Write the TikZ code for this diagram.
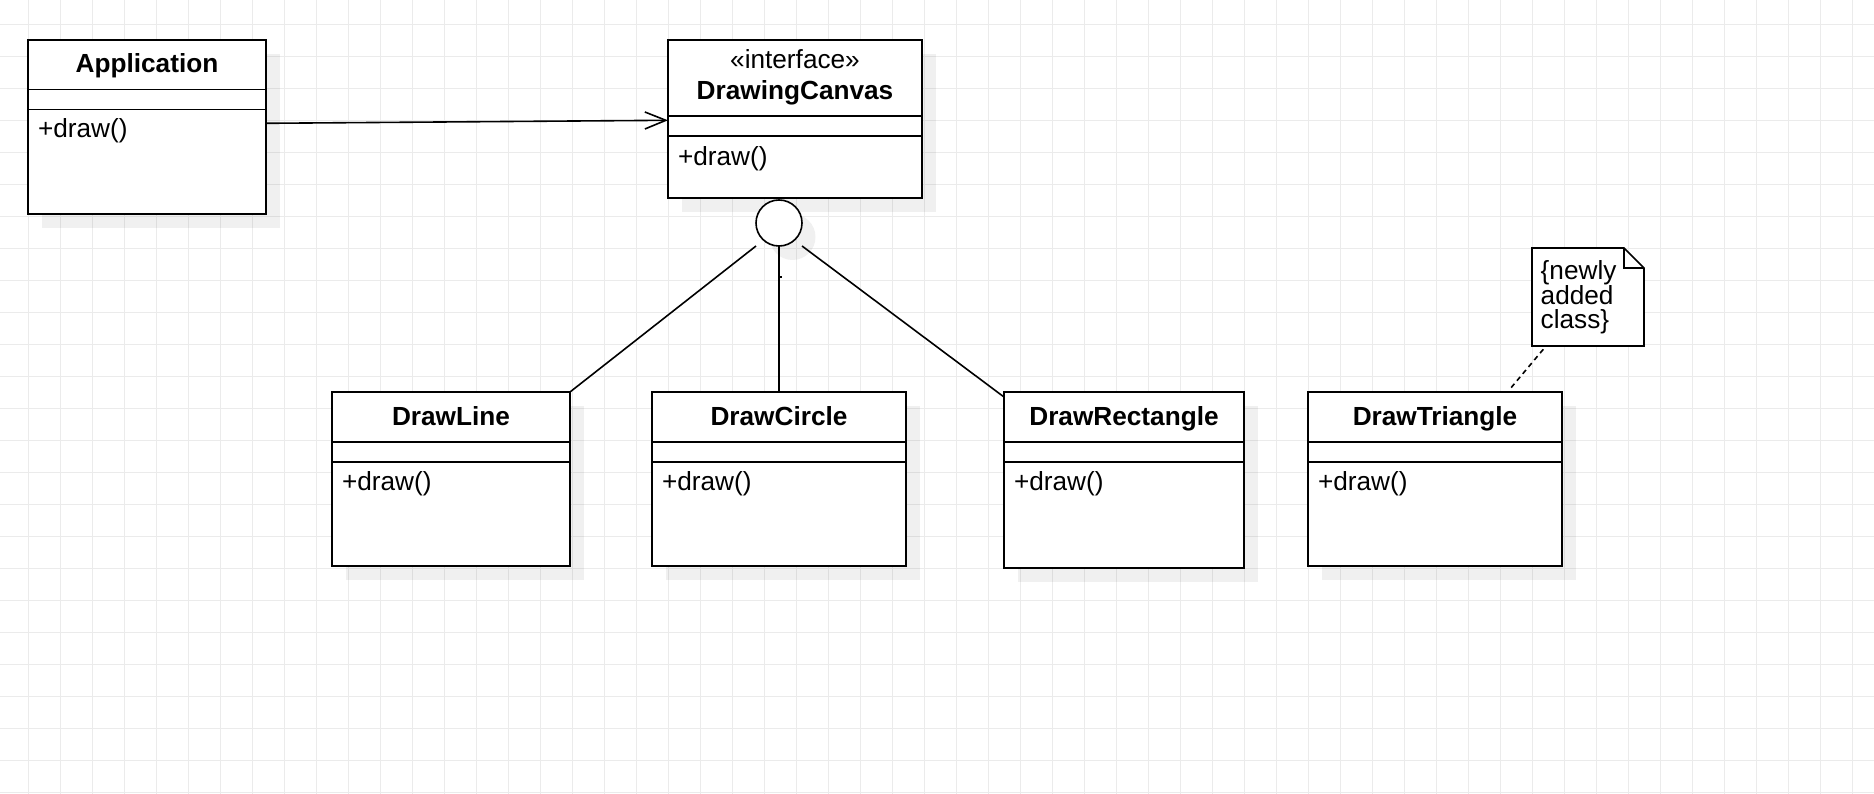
\documentclass[tikz,border=0pt]{standalone}
\usepackage{fontspec}
\setmainfont{Liberation Sans}
\usetikzlibrary{arrows.meta,calc}
\newcommand{\umlclass}[7]{%
  \fill[shade] (#2+14,#3+14) rectangle (#4+14,#5+14);
  \node[umlbox, minimum width={(#4-#2)*1pt}, minimum height={(#5-#3)*1pt}] (#1) at (#2,#3) {};
  \draw[sep] ($(#1.north west)+(0,#6)$) -- ($(#1.north east)+(0,#6)$);
  \draw[sep] ($(#1.north west)+(0,#7)$) -- ($(#1.north east)+(0,#7)$);
}
\begin{document}
\begin{tikzpicture}[x=1pt,y=-1pt,
  every node/.style={inner sep=0pt, outer sep=0pt},
  txt/.style={font=\fontsize{26.2}{24.5}\selectfont},
  ttl/.style={font=\fontsize{26.2}{24.5}\selectfont\bfseries},
  umlbox/.style={draw, fill=white, line width=1.6pt, rectangle, anchor=north west},
  shade/.style={fill=black, fill opacity=0.06},
  sep/.style={line width=1.6pt},
  conn/.style={line width=1.6pt},
  gridline/.style={draw=black!8, line width=1pt}]
\useasboundingbox (0,0) rectangle (1874,794);
\fill[white] (0,0) rectangle (1874,794);
\foreach \i in {0,...,57} \draw[gridline] ({28.3+32*\i},0) -- ({28.3+32*\i},794);
\foreach \j in {0,...,24} \draw[gridline] (0,{24.3+32*\j}) -- (1874,{24.3+32*\j});

% classes
\umlclass{app}{28}{40}{266}{214}{49.7}{69.7}
\umlclass{canvas}{668}{40}{922}{198}{76}{96}
\umlclass{dline}{332}{392}{570}{566}{49.7}{69.7}
\umlclass{dcircle}{652}{392}{906}{566}{49.7}{69.7}
\umlclass{drect}{1004}{392}{1244}{568}{49.7}{69.7}
\umlclass{dtri}{1308}{392}{1562}{566}{49.7}{69.7}

% texts
\node[ttl, anchor=base] (apptitle) at (147,72.7) {Application};
\node[txt, anchor=base west] (appop) at (38,138) {+draw()};
\node[txt, anchor=base] (canvasst) at (795,69) {«interface»};
\node[ttl, anchor=base] (canvastitle) at (795,99.3) {DrawingCanvas};
\node[txt, anchor=base west] (canvasop) at (678,165.5) {+draw()};
\node[ttl, anchor=base] (dlinetitle) at (451,425) {DrawLine};
\node[txt, anchor=base west] (dlineop) at (342,490) {+draw()};
\node[ttl, anchor=base] (dcircletitle) at (779,425) {DrawCircle};
\node[txt, anchor=base west] (dcircleop) at (662,490) {+draw()};
\node[ttl, anchor=base] (drecttitle) at (1124,425) {DrawRectangle};
\node[txt, anchor=base west] (drectop) at (1014,490) {+draw()};
\node[ttl, anchor=base] (dtrititle) at (1435,425) {DrawTriangle};
\node[txt, anchor=base west] (dtriop) at (1318,490) {+draw()};

% interface lollipop
\fill[shade] (792.5,237) circle[radius=23];
\node[circle, draw, fill=white, line width=1.6pt, minimum size=46pt] (iface) at (779,223) {};
\draw[conn] ([xshift=-23pt]iface.south) -- (dline.north east);
\draw[conn] (iface.south) -- (dcircle.north);
\draw[conn] ([xshift=23pt]iface.south) -- ([yshift=-5pt]drect.north west);
\fill (780,276) rectangle (782,278);

% association arrow
\draw[conn, -{Straight Barb[length=21pt,width=17pt]}] ([yshift=3.7pt]app.east) -- ([yshift=-1.3pt]canvas.west);

% note
\node[minimum width=112pt, minimum height=98pt, anchor=north west] (note) at (1532,248) {};
\draw[line width=1.6pt, fill=white] (note.north west) -- ([xshift=-20pt]note.north east) -- ([yshift=-20pt]note.north east) -- (note.south east) -- (note.south west) -- cycle;
\draw[line width=1.6pt] ([xshift=-20pt]note.north east) -- ([xshift=-20pt,yshift=-20pt]note.north east) -- ([yshift=-20pt]note.north east);
\node[txt, anchor=base west] (notetext) at (1540.7,280) {\baselineskip=24.5pt\vtop{\hbox{\{newly}\hbox{added}\hbox{class\}}}};
\draw[conn, dash pattern=on 5pt off 4pt] ([xshift=11.3pt,yshift=-3.3pt]note.south west) -- ([xshift=75pt,yshift=3pt]dtri.north);
\end{tikzpicture}
\end{document}
